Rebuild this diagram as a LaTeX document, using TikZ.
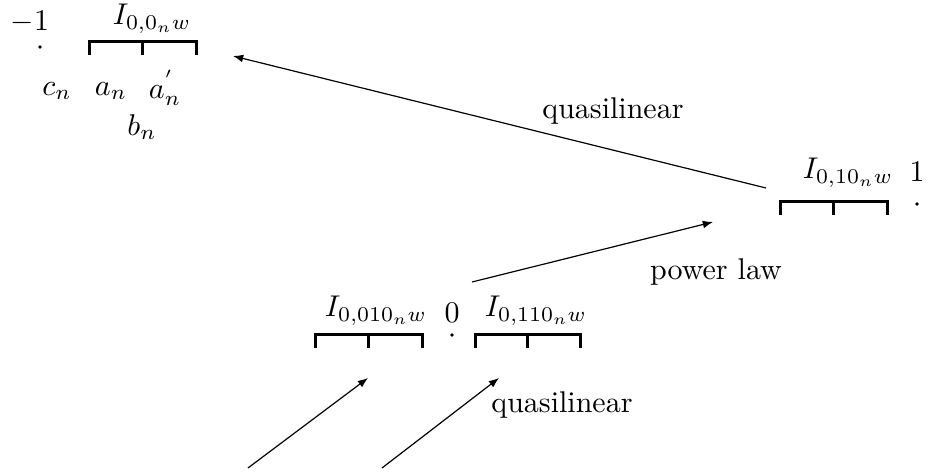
\documentclass[tikz,border=0pt]{standalone}
\usepackage{amsmath,amssymb}
\usetikzlibrary{arrows.meta}
% interval bracket: left x, right x, top y
\newcommand{\intvl}[3]{%
  \draw[brk] (#1,#3+13) -- (#1,#3) -- (#2,#3) -- (#2,#3+13);
  \draw[brk] ({(#1+#2)/2},#3) -- ({(#1+#2)/2},#3+13);}
\begin{document}
\begin{tikzpicture}[x=0.3333pt, y=-0.3333pt,
  lab/.style={inner sep=0pt},
  brk/.style={line width=1pt, line cap=butt},
  dotm/.style={circle, fill=black, inner sep=0pt, minimum size=1.2pt},
  flow/.style={-{Latex[length=3.4pt,width=2.6pt]}, line width=0.4pt},
]
\useasboundingbox (0,0) rectangle (930,474);
% ---- level n: interval near -1 ----
\node[lab] (mone) at (30,22){$-1$};
\node[dotm] (pmone) at (40,47){};
\node[lab] (Izero) at (152,19){$I_{0,0_n w}$};
\intvl{89}{196}{42}
\node[lab] (cn) at (57,91){$c_n$};
\node[lab] (an) at (111,91){$a_n$};
\node[lab] (anp) at (165,88){$a^{'}_n$};
\node[lab] (bn) at (142,127){$b_n$};
% ---- interval near 1 ----
\node[lab] (Ione) at (848,173){$I_{0,10_n w}$};
\node[lab] (one) at (917,172){$1$};
\node[dotm] (pone) at (917,204){};
\intvl{780}{887}{202}
% ---- intervals around 0 ----
\node[lab] (Ioa) at (376,311){$I_{0,010_n w}$};
\node[lab] (zero) at (452,313){$0$};
\node[dotm] (pzero) at (452,335){};
\node[lab] (Iob) at (536,311){$I_{0,110_n w}$};
\intvl{315}{422}{335}
\intvl{475}{580}{335}
% ---- maps ----
\coordinate (qa) at (766,188); \coordinate (qb) at (233,56);
\coordinate (pa) at (472,282); \coordinate (pb) at (713,222);
\coordinate (la) at (248,468); \coordinate (lb) at (368,378);
\coordinate (ra) at (382,468); \coordinate (rb) at (499,378);
\draw[flow] (qa) -- (qb);
\draw[flow] (pa) -- (pb);
\draw[flow] (la) -- (lb);
\draw[flow] (ra) -- (rb);
\node[lab] (quasiup) at (613,111){quasilinear};
\node[lab] (power) at (716,272){power law};
\node[lab] (quasilo) at (562,405){quasilinear};
\end{tikzpicture}
\end{document}
